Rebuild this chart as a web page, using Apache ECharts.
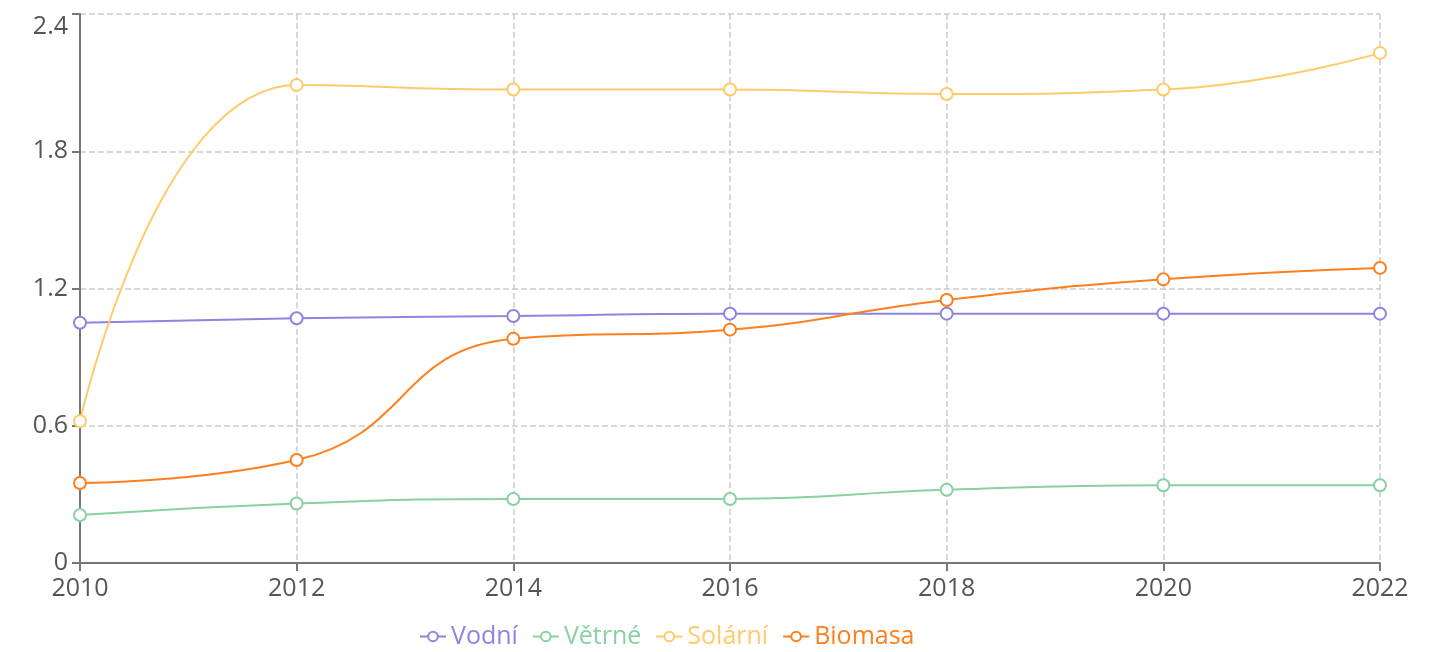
<!DOCTYPE html>
<html>
<head>
<meta charset="utf-8">
<script src="https://cdn.jsdelivr.net/npm/echarts@6/dist/echarts.min.js"></script>
<style>
  html, body { margin: 0; padding: 0; background: #fff; }
  #main { width: 1438px; height: 652px; }
</style>
</head>
<body>
<div id="main"></div>
<script>
var years = ['2010', '2012', '2014', '2016', '2018', '2020', '2022'];
var vodni = [1.05, 1.07, 1.08, 1.09, 1.09, 1.09, 1.09];
var vetrne = [0.21, 0.26, 0.28, 0.28, 0.32, 0.34, 0.34];
var solarni = [0.62, 2.09, 2.07, 2.07, 2.05, 2.07, 2.23];
var biomasa = [0.35, 0.45, 0.98, 1.02, 1.15, 1.24, 1.29];

var names = ['Vodní', 'Větrné', 'Solární', 'Biomasa'];
var colors = ['#8d84e0', '#89d1a2', '#ffca6a', '#ff7f1e'];
var values = [vodni, vetrne, solarni, biomasa];

var chart = echarts.init(document.getElementById('main'));

var series = [];
for (var i = 0; i < names.length; i++) {
  series.push({
    name: names[i],
    type: 'line',
    smooth: true,
    data: values[i],
    color: colors[i],
    symbol: 'circle',
    symbolSize: 12,
    itemStyle: { color: '#fff', borderColor: colors[i], borderWidth: 2 },
    lineStyle: { width: 2, color: colors[i] }
  });
}

var option = {
  textStyle: { fontFamily: 'Open Sans' },
  grid: { left: 80, right: 58, top: 14, bottom: 89, containLabel: false },
  legend: {
    top: 619,
    left: 414,
    itemWidth: 26,
    itemHeight: 12,
    itemGap: 14,
    textStyle: { fontSize: 25, fontFamily: 'Open Sans' },
    data: names.map(function (n, i) {
      return { name: n, textStyle: { color: colors[i] } };
    })
  },
  xAxis: {
    type: 'category',
    boundaryGap: false,
    data: years,
    axisLine: { lineStyle: { color: '#777', width: 2 } },
    axisTick: { show: true, length: 8, lineStyle: { color: '#777', width: 2 } },
    axisLabel: { fontSize: 25, color: '#555', margin: 13 },
    splitLine: { show: true, lineStyle: { color: '#ccc', type: 'dashed', width: 1.5 } }
  },
  yAxis: {
    type: 'value',
    min: 0,
    max: 2.4,
    interval: 0.6,
    axisLine: { show: true, lineStyle: { color: '#777', width: 2 } },
    axisTick: { show: true, length: 8, lineStyle: { color: '#777', width: 2 } },
    axisLabel: { fontSize: 25, color: '#555', margin: 12, verticalAlignMaxLabel: 'top' },
    splitLine: { show: true, lineStyle: { color: '#ccc', type: 'dashed', width: 1.5 } }
  },
  series: series
};

chart.setOption(option);
</script>
</body>
</html>
